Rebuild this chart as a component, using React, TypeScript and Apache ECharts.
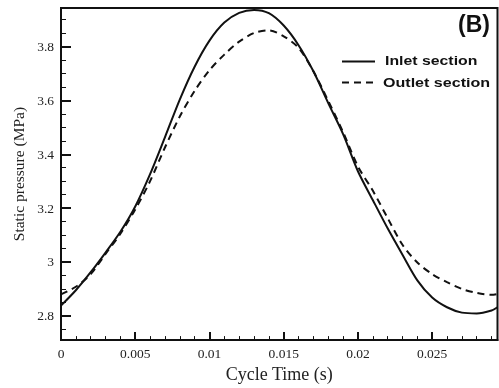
import React, { useEffect, useRef } from "react";
import * as echarts from "echarts";

// Cycle time (s)
const timeS = [0, 0.001, 0.002, 0.003, 0.004, 0.005, 0.006, 0.007, 0.008, 0.009, 0.01, 0.011, 0.012, 0.013, 0.014, 0.015, 0.016, 0.017, 0.018, 0.019, 0.02, 0.021, 0.022, 0.023, 0.024, 0.025, 0.026, 0.027, 0.028, 0.029, 0.0294];
// Static pressure (MPa)
const inletP = [2.838, 2.895, 2.962, 3.035, 3.112, 3.206, 3.326, 3.463, 3.603, 3.725, 3.822, 3.889, 3.925, 3.936, 3.924, 3.878, 3.805, 3.708, 3.59, 3.475, 3.337, 3.23, 3.125, 3.027, 2.932, 2.868, 2.832, 2.812, 2.809, 2.82, 2.832];
const outletP = [2.88, 2.908, 2.955, 3.03, 3.105, 3.195, 3.3, 3.425, 3.54, 3.635, 3.712, 3.77, 3.818, 3.85, 3.86, 3.838, 3.795, 3.708, 3.598, 3.482, 3.355, 3.265, 3.163, 3.064, 2.998, 2.955, 2.925, 2.9, 2.885, 2.878, 2.881];

const seriesNames = ["Inlet section", "Outlet section"];
const xTicks = [0, 0.005, 0.01, 0.015, 0.02, 0.025];
const xMinorTicks = [0.001, 0.002, 0.003, 0.004, 0.006, 0.007, 0.008, 0.009, 0.011, 0.012, 0.013, 0.014, 0.016, 0.017, 0.018, 0.019, 0.021, 0.022, 0.023, 0.024, 0.026, 0.027, 0.028, 0.029];
const yTicks = [2.8, 3, 3.2, 3.4, 3.6, 3.8];
const yMinorTicks = [2.75, 2.85, 2.9, 2.95, 3.05, 3.1, 3.15, 3.25, 3.3, 3.35, 3.45, 3.5, 3.55, 3.65, 3.7, 3.75, 3.85, 3.9];

const X_MIN = 0;
const X_MAX = 0.0294;
const Y_MIN = 2.71;
const Y_MAX = 3.943;

const SERIF = "'Liberation Serif', 'Times New Roman', serif";
const SANS = "'Liberation Sans', Arial, sans-serif";
const INK = "#111111";

export default function App() {
  const ref = useRef<HTMLDivElement>(null);

  useEffect(() => {
    if (!ref.current) return;
    const chart = echarts.init(ref.current, undefined, { renderer: "svg" });

    chart.setOption({
      animation: false,
      grid: {
        left: 61,
        right: 1.5,
        top: 8,
        bottom: 37.5,
        show: true,
        borderColor: INK,
        borderWidth: 2,
        backgroundColor: "transparent",
      },
      xAxis: [
        {
          type: "value",
          min: X_MIN,
          max: X_MAX,
          position: "bottom",
          name: "Cycle Time (s)",
          nameLocation: "middle",
          nameGap: 20,
          nameTextStyle: { fontFamily: SERIF, fontSize: 18, color: "#222" },
          splitLine: { show: false },
          axisLine: { show: true, lineStyle: { color: INK, width: 2 } },
          axisTick: { show: true, inside: true, length: 8, lineStyle: { color: INK, width: 2 }, customValues: xTicks },
          axisLabel: { customValues: xTicks, margin: 6, fontFamily: SERIF, fontSize: 13.5, color: "#222" },
        },
        {
          type: "value",
          min: X_MIN,
          max: X_MAX,
          position: "bottom",
          splitLine: { show: false },
          axisLine: { show: false },
          axisTick: { show: true, inside: true, length: 4, lineStyle: { color: INK, width: 1 }, customValues: xMinorTicks },
          axisLabel: { show: false },
        },
      ],
      yAxis: [
        {
          type: "value",
          min: Y_MIN,
          max: Y_MAX,
          position: "left",
          name: "Static pressure (MPa)",
          nameLocation: "middle",
          nameGap: 34,
          nameTextStyle: { fontFamily: SERIF, fontSize: 15.5, color: "#222" },
          splitLine: { show: false },
          axisLine: { show: true, lineStyle: { color: INK, width: 2 } },
          axisTick: { show: true, inside: true, length: 10, lineStyle: { color: INK, width: 2 }, customValues: yTicks },
          axisLabel: { customValues: yTicks, margin: 7, fontFamily: SERIF, fontSize: 13.5, color: "#222" },
        },
        {
          type: "value",
          min: Y_MIN,
          max: Y_MAX,
          position: "left",
          splitLine: { show: false },
          axisLine: { show: false },
          axisTick: { show: true, inside: true, length: 5, lineStyle: { color: INK, width: 1 }, customValues: yMinorTicks },
          axisLabel: { show: false },
        },
      ],
      series: [
        {
          name: seriesNames[0],
          type: "line",
          xAxisIndex: 0,
          yAxisIndex: 0,
          smooth: 0.3,
          showSymbol: false,
          lineStyle: { color: INK, width: 2, type: "solid" },
          data: timeS.map((t, i) => [t, inletP[i]]),
        },
        {
          name: seriesNames[1],
          type: "line",
          xAxisIndex: 0,
          yAxisIndex: 0,
          smooth: 0.3,
          showSymbol: false,
          lineStyle: { color: INK, width: 2, type: [7, 5] },
          data: timeS.map((t, i) => [t, outletP[i]]),
        },
      ],
      graphic: [
        { type: "text", x: 458, y: 12, style: { text: "(B)", fontFamily: SANS, fontWeight: "bold", fontSize: 23, fill: "#111" } },
        { type: "line", shape: { x1: 342, y1: 61.5, x2: 375, y2: 61.5 }, style: { stroke: INK, lineWidth: 2 } },
        { type: "text", x: 385, y: 61, scaleX: 1.32, style: { text: seriesNames[0], fontFamily: SANS, fontWeight: "bold", fontSize: 12, fill: "#111", verticalAlign: "middle" } },
        { type: "line", shape: { x1: 342, y1: 82.5, x2: 375, y2: 82.5 }, style: { stroke: INK, lineWidth: 2, lineDash: [7, 5] } },
        { type: "text", x: 383, y: 82.5, scaleX: 1.34, style: { text: seriesNames[1], fontFamily: SANS, fontWeight: "bold", fontSize: 12, fill: "#111", verticalAlign: "middle" } },
      ],
    });

    return () => chart.dispose();
  }, []);

  return <div ref={ref} style={{ position: "fixed", left: 0, top: 0, width: 499, height: 388 }} />;
}
